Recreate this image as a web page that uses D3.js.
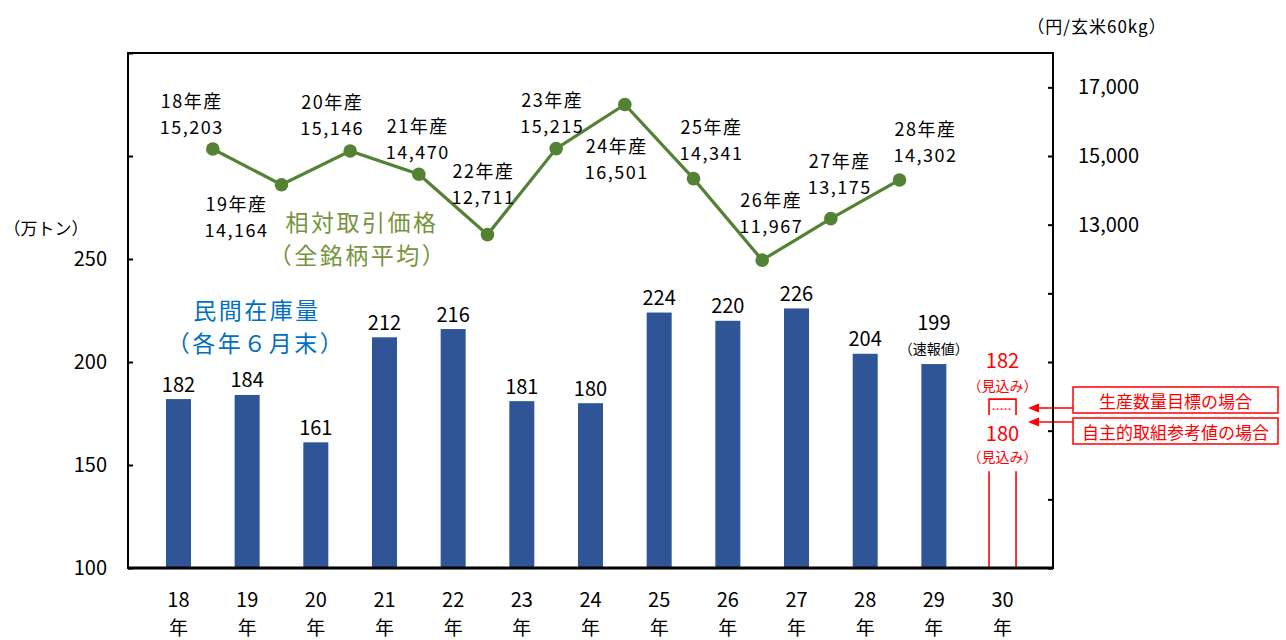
<!DOCTYPE html>
<html><head><meta charset="utf-8">
<script src="https://cdn.jsdelivr.net/npm/d3@7/dist/d3.min.js"></script>
<style>
html,body{margin:0;padding:0;background:#fff;}
text{font-family:"Noto Sans CJK JP","Noto Sans",sans-serif;}
</style></head>
<body>
<svg id="chart" width="1286" height="640"></svg>
<script>
// ---- data ----
const years = ["18","19","20","21","22","23","24","25","26","27","28","29","30"];
const stock = [182,184,161,212,216,181,180,224,220,226,204,199];
const stockNote = {"29":"（速報値）"};
const forecastYear = "30";
const forecastHigh = 182;
const forecastLow = 180;
const forecastNote = "（見込み）";
const priceYears = ["18","19","20","21","22","23","24","25","26","27","28"];
const price = [15203,14164,15146,14470,12711,15215,16501,14341,11967,13175,14302];
const leftTicks = [100,150,200,250,300,350];
const leftTickLabels = [100,150,200,250];
const rightTicks = [3000,5000,7000,9000,11000,13000,15000,17000];
const rightTickLabels = [13000,15000,17000];
const legendTexts = ["生産数量目標の場合","自主的取組参考値の場合"];

// ---- layout / style ----
const L = 128, R = 1053, T = 53, B = 568;
const barColor = "#2F5597", lineColor = "#548235", red = "#FF0000";
// price label offsets (layout only): [dx, dy of first line]
const priceLabelOffset = [[-21,-49],[-45,18],[-18,-50],[-1,-49],[-4,-65],[-4,-50],[-8,41],[18,-53],[9,-61],[9,-59],[26,-52]];

const svg = d3.select("#chart");
const x = d3.scaleBand().domain(years).range([L,R]).paddingInner(0).paddingOuter(0.235);
const yL = d3.scaleLinear().domain([100,350]).range([B,T]);
const yR = d3.scaleLinear().domain([3000,18000]).range([B,T]);
const cx = c => x(c) + x.bandwidth()/2;
const barW = 25;

// bars
svg.append("g").selectAll("rect").data(stock).join("rect")
  .attr("x",(d,i)=>cx(years[i])-barW/2)
  .attr("y",d=>yL(d))
  .attr("width",barW)
  .attr("height",d=>yL(100)-yL(d))
  .attr("fill",barColor);

// bar labels
const bl = svg.append("g").attr("font-size",20).attr("fill","#000").attr("text-anchor","middle");
stock.forEach((d,i)=>{
  const c = years[i];
  if (stockNote[c]) {
    bl.append("text").attr("x",cx(c)).attr("y",yL(d)-43).attr("dominant-baseline","central").text(d);
    bl.append("text").attr("x",cx(c)).attr("y",yL(d)-16).attr("dominant-baseline","central")
      .attr("font-size",14).text(stockNote[c]);
  } else {
    bl.append("text").attr("x",cx(c)).attr("y",yL(d)-16).attr("dominant-baseline","central").text(d);
  }
});

// forecast (red) for year 30
const fc = cx(forecastYear);
const fg = svg.append("g").attr("stroke",red).attr("fill","none").attr("stroke-width",1.6);
fg.append("path").attr("d",`M${fc-13.5},${yL(forecastHigh)+16}V${yL(forecastHigh)}H${fc+13.5}V${yL(forecastHigh)+16}`);
fg.append("line").attr("x1",fc-10).attr("x2",fc+10).attr("y1",yL(forecastHigh)+10).attr("y2",yL(forecastHigh)+10)
  .attr("stroke-dasharray","2,2").attr("stroke-width",1.4);
[-13.5,13.5].forEach(o=>{
  fg.append("line").attr("x1",fc+o).attr("x2",fc+o).attr("y1",yL(100)).attr("y2",yL(forecastLow)+68);
});
const ft = svg.append("g").attr("fill",red).attr("text-anchor","middle");
ft.append("text").attr("x",fc).attr("y",yL(forecastHigh)-40).attr("dominant-baseline","central").attr("font-size",20).text(forecastHigh);
ft.append("text").attr("x",fc).attr("y",yL(forecastHigh)-14).attr("dominant-baseline","central").attr("font-size",14).text(forecastNote);
ft.append("text").attr("x",fc).attr("y",yL(forecastLow)+29).attr("dominant-baseline","central").attr("font-size",20).text(forecastLow);
ft.append("text").attr("x",fc).attr("y",yL(forecastLow)+53).attr("dominant-baseline","central").attr("font-size",14).text(forecastNote);

// legend boxes with arrows
const lgX = 1073, lgW = 205, lgH = 26;
const lgY = [387, 418];
const arrowY = [yL(forecastHigh)+9, yL(forecastHigh)+23];
legendTexts.forEach((t,i)=>{
  svg.append("rect").attr("x",lgX).attr("y",lgY[i]).attr("width",lgW).attr("height",lgH)
    .attr("fill","#fff").attr("stroke",red).attr("stroke-width",1.5);
  svg.append("text").attr("x",lgX+lgW/2).attr("y",lgY[i]+lgH/2).attr("dominant-baseline","central")
    .attr("text-anchor","middle").attr("font-size",17).attr("fill",red).text(t);
  svg.append("line").attr("x1",lgX).attr("x2",1036).attr("y1",arrowY[i]).attr("y2",arrowY[i])
    .attr("stroke",red).attr("stroke-width",1.5);
  svg.append("path").attr("d",`M1028,${arrowY[i]}L1039,${arrowY[i]-4.5}L1039,${arrowY[i]+4.5}Z`).attr("fill",red);
});

// line
const px = c => x(c) + x.bandwidth();
svg.append("path").datum(price)
  .attr("d",d3.line().x((d,i)=>px(priceYears[i])).y(d=>yR(d)))
  .attr("fill","none").attr("stroke",lineColor).attr("stroke-width",3.2);
svg.append("g").selectAll("circle").data(price).join("circle")
  .attr("cx",(d,i)=>px(priceYears[i])).attr("cy",d=>yR(d)).attr("r",6.8).attr("fill",lineColor);

// price labels
const pl = svg.append("g").attr("font-size",18).attr("fill","#000").attr("text-anchor","middle").attr("letter-spacing",1.5);
price.forEach((d,i)=>{
  const [dx,dy] = priceLabelOffset[i];
  const xx = px(priceYears[i])+dx, yy = yR(d)+dy;
  pl.append("text").attr("x",xx).attr("y",yy).attr("dominant-baseline","central").text(priceYears[i]+"年産");
  pl.append("text").attr("x",xx).attr("y",yy+26).attr("dominant-baseline","central").text(d3.format(",")(d));
});

// axes
const axL = svg.append("g").attr("transform",`translate(${L},0)`)
  .call(d3.axisLeft(yL).tickValues(leftTicks).tickSize(-5).tickPadding(21)
    .tickFormat(d=>leftTickLabels.includes(d)?d:""));
const axR = svg.append("g").attr("transform",`translate(${R},0)`)
  .call(d3.axisRight(yR).tickValues(rightTicks).tickSize(-5).tickPadding(25)
    .tickFormat(d=>rightTickLabels.includes(d)?d3.format(",")(d):""));
[axL,axR].forEach(a=>{
  a.select(".domain").remove();
  a.selectAll(".tick line").attr("stroke","#000").attr("stroke-width",2);
  a.selectAll(".tick text").attr("font-size",20).attr("fill","#000")
    .attr("font-family","'Liberation Sans',Arial,sans-serif");
});
// frame
svg.append("rect").attr("x",L).attr("y",T).attr("width",R-L).attr("height",B-T)
  .attr("fill","none").attr("stroke","#000").attr("stroke-width",2);
svg.append("line").attr("x1",L).attr("x2",R).attr("y1",B).attr("y2",B).attr("stroke","#000").attr("stroke-width",3);

// x labels
const xl = svg.append("g").attr("font-size",19).attr("fill","#000").attr("text-anchor","middle");
years.forEach(c=>{
  xl.append("text").attr("x",cx(c)).attr("y",598).attr("dominant-baseline","central")
    .attr("font-family","'Liberation Sans',Arial,sans-serif").attr("font-size",20).text(c);
  xl.append("text").attr("x",cx(c)).attr("y",626).attr("dominant-baseline","central").text("年");
});

// unit labels
svg.append("text").attr("x",46).attr("y",227).attr("dominant-baseline","central").attr("text-anchor","middle")
  .attr("font-size",17).text("（万トン）");
svg.append("text").attr("x",1097).attr("y",25).attr("dominant-baseline","central").attr("text-anchor","middle")
  .attr("font-size",17).attr("letter-spacing",1).text("（円/玄米60kg）");

// series titles
const gt = svg.append("g").attr("fill","#77933C").attr("font-size",23).attr("text-anchor","middle").attr("letter-spacing",2.5);
gt.append("text").attr("x",362).attr("y",221).attr("dominant-baseline","central").text("相対取引価格");
gt.append("text").attr("x",358).attr("y",254).attr("dominant-baseline","central").text("（全銘柄平均）");
const bt = svg.append("g").attr("fill","#0070C0").attr("font-size",23).attr("text-anchor","middle").attr("letter-spacing",2.5);
bt.append("text").attr("x",257).attr("y",309).attr("dominant-baseline","central").text("民間在庫量");
bt.append("text").attr("x",256).attr("y",342).attr("dominant-baseline","central").text("（各年６月末）");
</script>
</body></html>
